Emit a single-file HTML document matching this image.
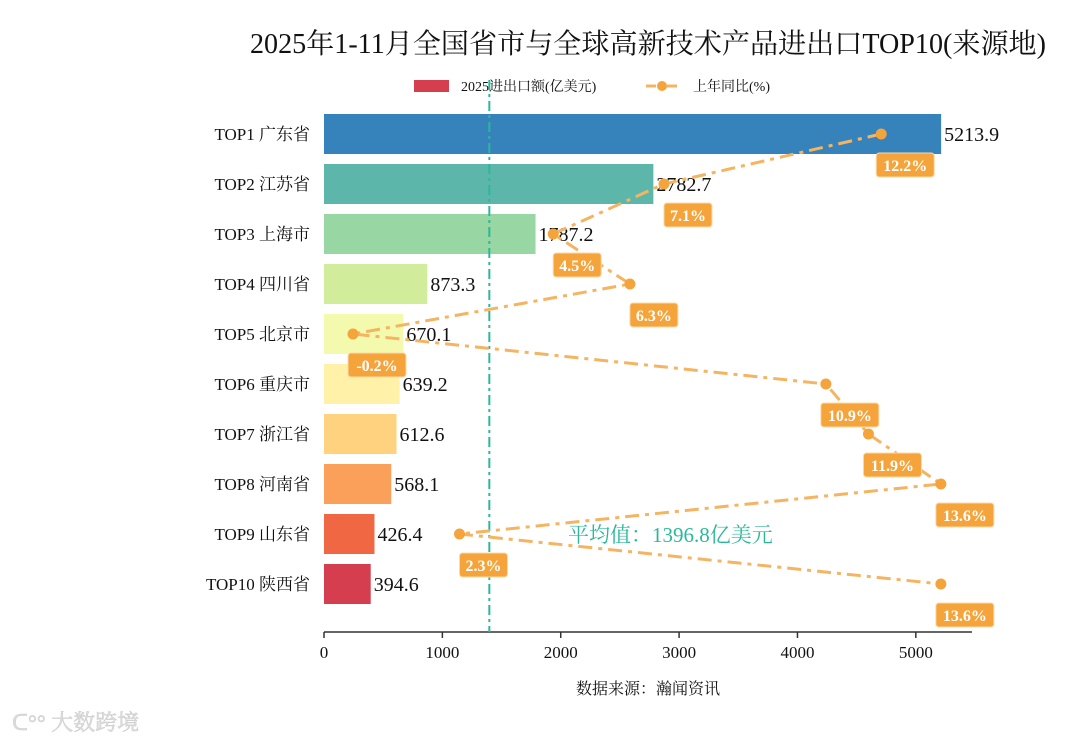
<!DOCTYPE html>
<html><head><meta charset="utf-8"><style>
body{margin:0;background:#fff;}
svg text{font-family:"Liberation Serif","Noto Serif CJK SC",serif;}
</style></head><body>
<svg id="chart" width="1080" height="743" xmlns="http://www.w3.org/2000/svg">
<text x="648" y="53" text-anchor="middle" font-size="28" textLength="796" lengthAdjust="spacingAndGlyphs" fill="#111">2025年1-11月全国省市与全球高新技术产品进出口TOP10(来源地)</text>
<g>
<rect x="414" y="80" width="35" height="12" fill="#d53e4f"/>
<text x="461" y="91" font-size="14" fill="#111">2025进出口额(亿美元)</text>
<line x1="646" y1="86" x2="680" y2="86" stroke="#f5b461" stroke-width="3" stroke-dasharray="10,4,3,4"/>
<circle cx="662" cy="86" r="5" fill="#f5a43c"/>
<text x="693" y="91" font-size="14" fill="#111">上年同比(%)</text>
</g>
<g id="bars"></g>
<g id="axis"></g>
<g id="line"></g>
<text x="648" y="694" text-anchor="middle" font-size="16" fill="#111">数据来源：瀚闻资讯</text>
<text x="12" y="730" font-size="22" fill="#ddd" stroke="#ccc" stroke-width="0.5" font-family="Noto Sans CJK SC,sans-serif">ᑕ°° 大数跨境</text>
</svg>
<script>
const categories=["TOP1 广东省","TOP2 江苏省","TOP3 上海市","TOP4 四川省","TOP5 北京市","TOP6 重庆市","TOP7 浙江省","TOP8 河南省","TOP9 山东省","TOP10 陕西省"];
const values=[5213.9,2782.7,1787.2,873.3,670.1,639.2,612.6,568.1,426.4,394.6];
const yoy=[12.2,7.1,4.5,6.3,-0.2,10.9,11.9,13.6,2.3,13.6];
const xTicks=[0,1000,2000,3000,4000,5000];
const colors=["#3682ba","#5cb7aa","#98d6a4","#d1ed9c","#f3faad","#fff1a8","#fed27f","#fba05b","#f06744","#d53e4f"];
const NS="http://www.w3.org/2000/svg";
const x0=324,x1=972,maxV=Math.max(...values)*1.05;
const xs=v=>x0+(v/maxV)*(x1-x0);
const ys=i=>134+i*50;
const px=p=>353+(p+0.2)*42.6;
const mean=values.reduce((a,b)=>a+b,0)/values.length;
function mk(t,a,p){const e=document.createElementNS(NS,t);for(const k in a)e.setAttribute(k,a[k]);p.appendChild(e);return e;}
const gb=document.getElementById('bars'),ga=document.getElementById('axis'),gl=document.getElementById('line');
values.forEach((v,i)=>{
 const r=mk('rect',{x:x0,y:ys(i)-20,width:xs(v)-x0,height:40,fill:colors[i]},gb);
 
 
 const t=mk('text',{x:xs(v)+3,y:ys(i)+7,'font-size':20,fill:'#111'},gb);t.textContent=v.toFixed(1);
 
 
 const c=mk('text',{x:310,y:ys(i)+6,'font-size':17,fill:'#111','text-anchor':'end'},gb);c.textContent=categories[i];
 
 
});
mk('line',{x1:x0,y1:632,x2:x1,y2:632,stroke:'#333','stroke-width':1.5},ga);
xTicks.forEach(v=>{mk('line',{x1:xs(v),y1:632,x2:xs(v),y2:638,stroke:'#333','stroke-width':1.5},ga);
 const t=mk('text',{x:xs(v),y:658,'font-size':17,'text-anchor':'middle',fill:'#111'},ga);t.textContent=v;
 
 });
const ml=mk('line',{x1:xs(mean),y1:80,x2:xs(mean),y2:632,stroke:'#2bb89a','stroke-width':2,'stroke-dasharray':'10,4,3,4'},gl);


const mt=mk('text',{x:568,y:542,'font-size':21,fill:'#2bb89a'},gl);mt.textContent='平均值：'+mean.toFixed(1)+'亿美元';


mk('polyline',{points:yoy.map((p,i)=>px(p)+','+ys(i)).join(' '),fill:'none',stroke:'#f5b461','stroke-width':3,'stroke-dasharray':'14,6,4,6'},gl);
yoy.forEach((p,i)=>{
 const c=mk('circle',{cx:px(p),cy:ys(i),r:5.5,fill:'#f5a43c'},gl);
 
 
 const s=(p.toFixed(1))+'%',w=s.length*10+8,lx=px(p)+24;
 const r=mk('rect',{x:lx-w/2,y:ys(i)+19,width:w,height:24,rx:3,fill:'#f5a43c',stroke:'#fcd9a8','stroke-width':1},gl);
 
 
 const t=mk('text',{x:lx,y:ys(i)+37,'font-size':16,'font-weight':'bold','text-anchor':'middle',fill:'#fff','font-family':'Liberation Sans,sans-serif'},gl);t.textContent=s;
 
 
});
</script>
</body></html>
